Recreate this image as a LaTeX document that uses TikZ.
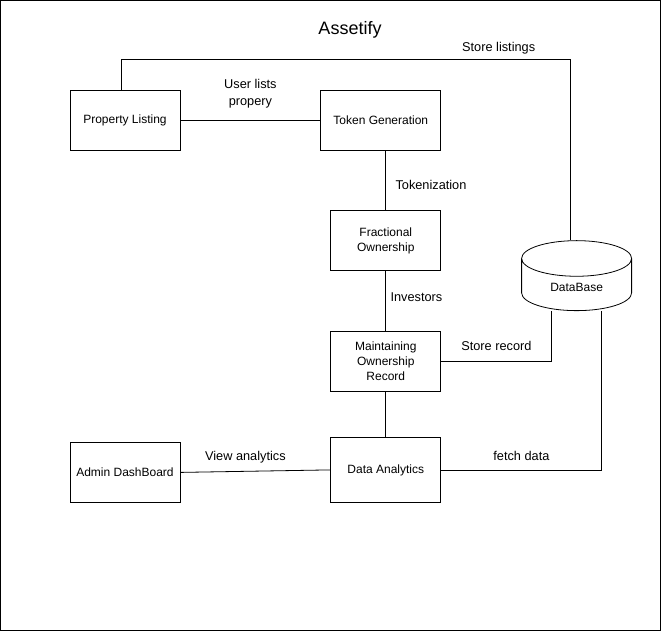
\documentclass[tikz,border=0pt]{standalone}
\usepackage{fontspec}
\setmainfont{Liberation Sans}
\usetikzlibrary{shapes.geometric,positioning}

\begin{document}
\begin{tikzpicture}[
    node distance=60pt,
    block/.style={rectangle, draw, line width=0.8pt, minimum width=110pt, minimum height=60pt, align=center, inner sep=2pt, font=\fontsize{12}{15}\selectfont},
    dbase/.style={cylinder, shape border rotate=90, aspect=0.6, draw, line width=0.8pt, minimum width=110pt, minimum height=70pt, font=\fontsize{12}{15}\selectfont},
    link/.style={line width=0.8pt},
    lbl/.style={font=\fontsize{12.75}{17}\selectfont, align=center}
]
\useasboundingbox (0,0) rectangle (661pt,-631pt);
\draw[line width=1pt] (0.5pt,-0.5pt) rectangle (660.5pt,-630.5pt);

\node[font=\fontsize{18}{22}\selectfont] (title) at (350pt,-30pt) {Assetify};

\node[block] (pl) at (125pt,-120pt) {Property Listing};
\node[block, minimum width=120pt, right=140pt of pl] (tg) {Token Generation};
\node[block, below=60pt of tg, xshift=5pt] (fo) {Fractional\\Ownership};
\node[block, below=60pt of fo] (mor) {Maintaining\\Ownership\\Record};
\node[block, minimum height=65pt, below=45pt of mor] (da) {Data Analytics};
\node[block, left=150pt of da, yshift=-2.5pt] (ad) {Admin DashBoard};
\node[dbase, right=80pt of fo, yshift=-47pt] (db) {DataBase};

\draw[link] ([xshift=-4pt]pl.north) -- ++(0,30pt) -| node[lbl, pos=0.42, above=2pt] {Store listings} ([xshift=-6pt]db.north);
\draw[link] (pl) -- node[lbl, above=8pt] {User lists\\propery} (tg);
\draw[link] (fo.north |- tg.south) -- node[lbl, right=6pt, yshift=-5pt] {Tokenization} (fo.north);
\draw[link] (fo) -- node[lbl, right=1pt, yshift=4pt] {Investors} (mor);
\draw[link] (mor.east) -| node[lbl, pos=0.25, above=7pt] {Store record} ([xshift=-25pt]db.south);
\draw[link] (mor) -- (da);
\draw[link] (ad.east) -- node[lbl, above=4pt, xshift=-10pt] {View analytics} (da.west);
\draw[link] (da.east) -| node[lbl, pos=0.25, above=6pt] {fetch data} ([xshift=25pt]db.south);

\end{tikzpicture}
\end{document}
